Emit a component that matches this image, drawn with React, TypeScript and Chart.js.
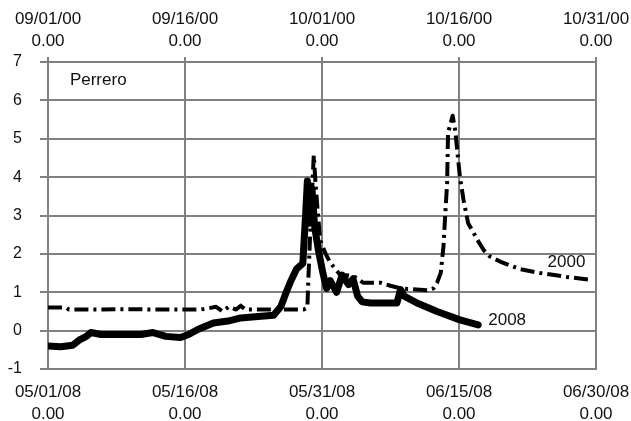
import React, { useEffect, useRef } from 'react';
import { Chart, registerables } from 'chart.js';

Chart.register(...registerables);

// Tick labels (value = day offset; 15-day steps)
const bottomDates = ['05/01/08', '05/16/08', '05/31/08', '06/15/08', '06/30/08'];
const topDates = ['09/01/00', '09/16/00', '10/01/00', '10/16/00', '10/31/00'];
const tickSubLabel = '0.00';

// Series 2008 (bottom axis, days since 05/01/08)
const days2008 = [0, 1.4, 2.7, 3.4, 4.2, 4.7, 5.8, 10.2, 11.5, 12.9, 14.5, 15.4, 16.4, 18.1, 19.7, 21.1, 23.0, 24.7, 25.5, 26.0, 26.6, 27.2, 27.9, 28.2, 28.4, 28.6, 28.9, 29.2, 29.6, 30.1, 30.5, 30.9, 31.6, 32.2, 32.9, 33.4, 33.9, 34.4, 35.3, 38.2, 38.6, 39.0, 40.4, 42.6, 45.1, 47.1];
const values2008 = [-0.4, -0.42, -0.38, -0.25, -0.15, -0.05, -0.1, -0.1, -0.05, -0.15, -0.18, -0.1, 0.03, 0.2, 0.25, 0.33, 0.37, 0.4, 0.63, 0.95, 1.3, 1.6, 1.75, 3.0, 3.9, 2.8, 3.7, 2.7, 2.1, 1.5, 1.1, 1.3, 1.0, 1.45, 1.2, 1.35, 0.9, 0.75, 0.72, 0.72, 1.07, 0.9, 0.72, 0.5, 0.28, 0.15];

// Series 2000 (top axis, days since 09/01/00)
const days2000 = [0, 2.0, 2.3, 5.8, 8.0, 12.4, 16.7, 17.5, 18.4, 19.1, 19.8, 20.6, 21.1, 21.6, 24.4, 26.6, 28.0, 28.4, 28.5, 28.7, 29.1, 29.3, 29.5, 29.8, 30.4, 30.9, 32.0, 33.4, 34.5, 36.4, 37.5, 38.6, 41.5, 42.2, 42.6, 43.0, 43.3, 43.5, 43.7, 43.8, 44.3, 44.6, 45.1, 45.5, 46.0, 46.6, 47.0, 47.7, 48.4, 49.5, 51.7, 53.9, 56.8, 59.6];
const values2000 = [0.6, 0.6, 0.55, 0.55, 0.56, 0.55, 0.55, 0.58, 0.62, 0.5, 0.62, 0.55, 0.65, 0.55, 0.55, 0.55, 0.55, 0.6, 1.3, 2.5, 4.57, 3.8, 3.2, 2.35, 2.0, 1.77, 1.45, 1.43, 1.25, 1.25, 1.17, 1.1, 1.05, 1.1, 1.25, 1.5, 2.2, 3.05, 3.85, 5.15, 5.6, 5.2, 4.0, 3.4, 2.8, 2.55, 2.37, 2.1, 1.93, 1.8, 1.6, 1.5, 1.4, 1.32];

// Text notes placed in data coordinates
const noteTexts = ['Perrero', '2000', '2008'];
const noteDays = [2.4, 54.7, 48.2];
const noteValues = [6.53, 1.79, 0.28];

const FONT = "'Liberation Sans', Arial, Helvetica, sans-serif";
const GRID = '#808080';
const TEXT = '#111111';

const notesPlugin = {
  id: 'notes',
  afterDatasetsDraw(chart: any) {
    const { ctx } = chart;
    const xs = chart.scales.x;
    const ys = chart.scales.y;
    ctx.save();
    ctx.font = `17px ${FONT}`;
    ctx.fillStyle = TEXT;
    ctx.textAlign = 'left';
    ctx.textBaseline = 'middle';
    noteTexts.forEach((t, i) => {
      ctx.fillText(t, xs.getPixelForValue(noteDays[i]), ys.getPixelForValue(noteValues[i]));
    });
    ctx.restore();
  },
};

export default function App() {
  const ref = useRef<HTMLCanvasElement>(null);
  useEffect(() => {
    document.body.style.margin = '0';
    const tickFont = { family: FONT, size: 17, lineHeight: 1.3 };
    const chart = new Chart(ref.current!, {
      type: 'line',
      data: {
        datasets: [
          {
            label: '2000',
            data: days2000.map((d, i) => ({ x: d, y: values2000[i] })),
            xAxisID: 'x2',
            yAxisID: 'y',
            borderColor: '#000',
            borderWidth: 4,
            borderDash: [14, 5, 3, 5],
            borderJoinStyle: 'round',
            pointRadius: 0,
            fill: false,
            tension: 0,
          },
          {
            label: '2008',
            data: days2008.map((d, i) => ({ x: d, y: values2008[i] })),
            xAxisID: 'x',
            yAxisID: 'y',
            borderColor: '#000',
            borderWidth: 7,
            borderJoinStyle: 'round',
            borderCapStyle: 'round',
            pointRadius: 0,
            fill: false,
            tension: 0,
          },
        ],
      },
      options: {
        responsive: false,
        animation: false,
        devicePixelRatio: 1,
        layout: { padding: { left: 0, right: 35, top: 0, bottom: 0 } },
        plugins: { legend: { display: false }, tooltip: { enabled: false } },
        scales: {
          x: {
            type: 'linear',
            position: 'bottom',
            min: 0,
            max: 60,
            ticks: {
              stepSize: 15,
              autoSkip: false,
              maxRotation: 0,
              padding: 12,
              color: TEXT,
              font: tickFont,
              callback: (v: any) => [bottomDates[Math.round(Number(v) / 15)], tickSubLabel],
            },
            grid: { color: GRID, lineWidth: 2, drawTicks: false },
            border: { color: GRID, width: 2 },
            afterFit: (s: any) => {
              s.height = 52;
              s.paddingLeft = 0;
              s.paddingRight = 0;
            },
          },
          x2: {
            type: 'linear',
            position: 'top',
            min: 0,
            max: 60,
            ticks: {
              stepSize: 15,
              autoSkip: false,
              maxRotation: 0,
              padding: 5,
              color: TEXT,
              font: tickFont,
              callback: (v: any) => [topDates[Math.round(Number(v) / 15)], tickSubLabel],
            },
            grid: { color: GRID, lineWidth: 2, drawOnChartArea: false, tickLength: 5 },
            border: { color: GRID, width: 2 },
            afterFit: (s: any) => {
              s.height = 62;
              s.paddingLeft = 0;
              s.paddingRight = 0;
            },
          },
          y: {
            min: -1,
            max: 7,
            ticks: {
              stepSize: 1,
              padding: 18,
              color: TEXT,
              font: { family: FONT, size: 16 },
            },
            grid: { color: GRID, lineWidth: 2, tickLength: 8 },
            border: { color: GRID, width: 2 },
            afterFit: (s: any) => {
              s.width = 48;
              s.paddingTop = 0;
              s.paddingBottom = 0;
            },
          },
        },
      } as any,
      plugins: [notesPlugin],
    });
    return () => chart.destroy();
  }, []);
  return (
    <div style={{ width: 631, height: 421 }}>
      <canvas ref={ref} width={631} height={421} style={{ display: 'block' }} />
    </div>
  );
}
